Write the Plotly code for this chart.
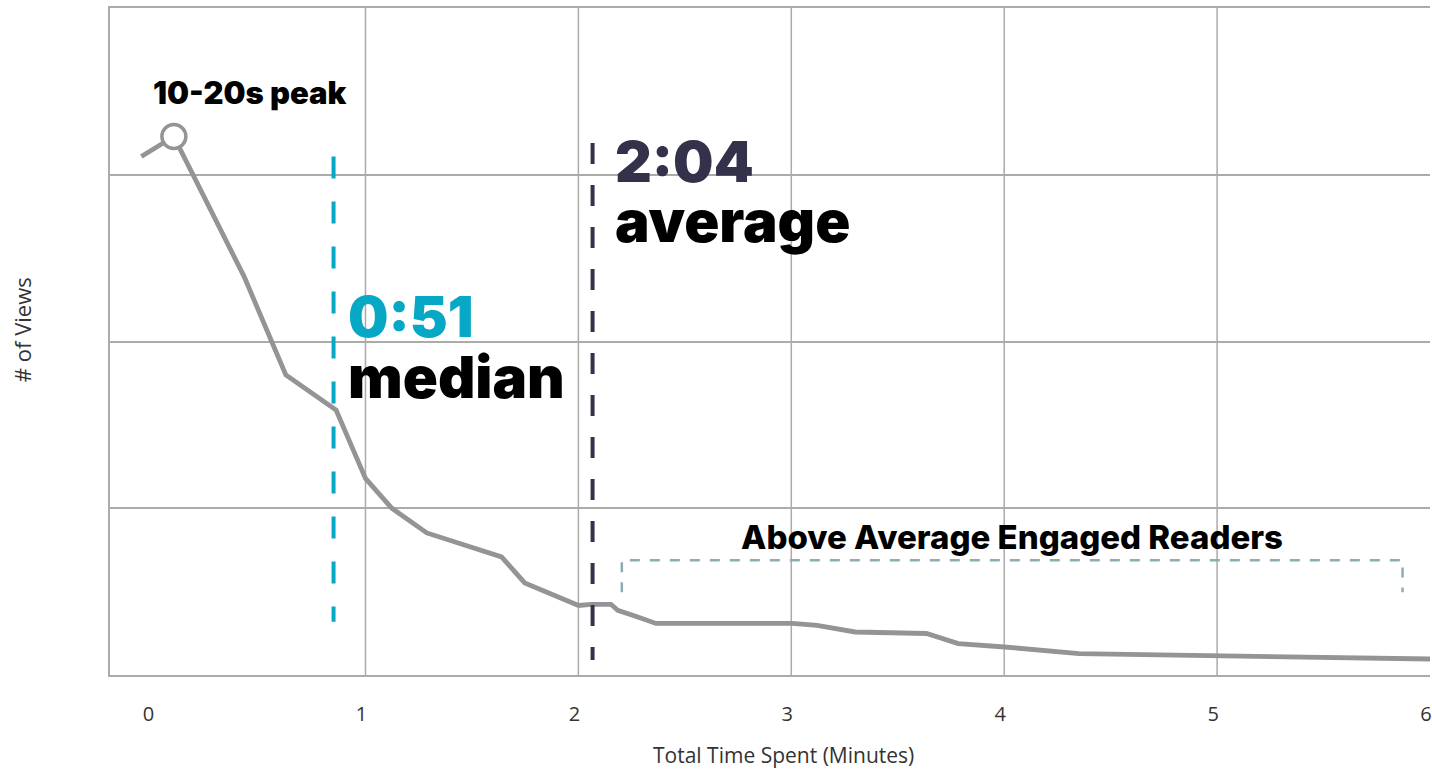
import plotly.graph_objects as go

# Time on page distribution (minutes vs. relative number of views)
minutes = [-0.053, 0.10, 0.430, 0.626, 0.862, 1.000, 1.123, 1.288, 1.639, 1.748,
           2.001, 2.060, 2.153, 2.185, 2.279, 2.364, 3.004, 3.121, 3.300, 3.635,
           3.784, 4.002, 4.351, 6.00]
views = [3.109, 3.229, 2.389, 1.799, 1.589, 1.179, 1.001, 0.852, 0.708, 0.552,
         0.417, 0.424, 0.424, 0.388, 0.348, 0.309, 0.309, 0.298, 0.258, 0.249,
         0.188, 0.168, 0.128, 0.096]

MEDIAN_MIN = 51 / 60      # 0:51
AVERAGE_MIN = 124 / 60    # 2:04
median_span = [0.32, 3.11]
average_span = [0.09, 3.19]
engaged_range = [2.204, 5.871]
engaged_bracket_y = [0.688, 0.496]

x_ticks = [0, 1, 2, 3, 4, 5, 6]
y_grid = [1, 2, 3]
x_range = [-0.2, 6.0]
y_range = [0, 4]

GRID = "#ababab"
LINE = "#949497"
TEAL = "#06a8c6"
NAVY = "#34324a"
BRACKET = "#8eabb1"
BOLD = "Inter"
LIGHT = "Open Sans"

peak_i = views.index(max(views))

fig = go.Figure()
fig.add_trace(go.Scatter(
    x=minutes, y=views, mode="lines",
    line=dict(color=LINE, width=4.8), hoverinfo="skip", showlegend=False,
))
fig.add_trace(go.Scatter(
    x=[minutes[peak_i]], y=[views[peak_i]], mode="markers",
    marker=dict(size=24, color="white", line=dict(color=LINE, width=3.5)),
    hoverinfo="skip", showlegend=False,
))

shapes = []
# vertical grid lines (none at 0)
for t in x_ticks[1:-1]:
    shapes.append(dict(type="line", xref="x", yref="paper", x0=t, x1=t, y0=0, y1=1,
                       line=dict(color=GRID, width=1.5), layer="below"))
# median and average markers
shapes.append(dict(type="line", xref="x", yref="y", x0=MEDIAN_MIN, x1=MEDIAN_MIN,
                   y0=median_span[1], y1=median_span[0],
                   line=dict(color=TEAL, width=4, dash="22px,23px")))
shapes.append(dict(type="line", xref="x", yref="y", x0=AVERAGE_MIN, x1=AVERAGE_MIN,
                   y0=average_span[1], y1=average_span[0],
                   line=dict(color=NAVY, width=4, dash="21px,21px")))
# bracket over the above-average region
x0, x1 = engaged_range
yt, yb = engaged_bracket_y
shapes.append(dict(type="path", xref="x", yref="y",
                   path=f"M {x0},{yb} L {x0},{yt} L {x1},{yt} L {x1},{yb}",
                   line=dict(color=BRACKET, width=2.5, dash="10px,10px")))

W, H = 1432, 770
ML, MR, MT, MB = 110, 0, 8, 95
pw, ph = W - ML - MR, H - MT - MB

annotations = [
    dict(text="10-20s peak", x=minutes[peak_i], y=views[peak_i], xref="x", yref="y",
         xshift=76, yshift=44, showarrow=False,
         font=dict(family=BOLD, size=31, color="black", weight=900)),
    dict(text="0:51", x=MEDIAN_MIN, y=2.15, xref="x", yref="y", xanchor="left",
         xshift=12, showarrow=False,
         font=dict(family=BOLD, size=57, color=TEAL, weight=900)),
    dict(text="median", x=MEDIAN_MIN, y=1.79, xref="x", yref="y", xanchor="left",
         xshift=12, showarrow=False,
         font=dict(family=BOLD, size=58, color="black", weight=900)),
    dict(text="2:04", x=AVERAGE_MIN, y=3.08, xref="x", yref="y", xanchor="left",
         xshift=20, showarrow=False,
         font=dict(family=BOLD, size=57, color=NAVY, weight=900)),
    dict(text="average", x=AVERAGE_MIN, y=2.72, xref="x", yref="y", xanchor="left",
         xshift=20, showarrow=False,
         font=dict(family=BOLD, size=58, color="black", weight=900)),
    dict(text="Above Average Engaged Readers", x=(x0 + x1) / 2, y=0.825, xref="x", yref="y",
         showarrow=False,
         font=dict(family=BOLD, size=33, color="black", weight=800)),
    # axis titles, positioned in pixel space
    dict(text="Total Time Spent (Minutes)", x=(785 - ML) / pw, y=(H - MB - 755) / ph,
         xref="paper", yref="paper", xanchor="center", yanchor="middle",
         showarrow=False, font=dict(family=LIGHT, size=21, color="#333")),
    dict(text="# of Views", x=(22 - ML) / pw, y=(H - MB - 330) / ph,
         xref="paper", yref="paper", xanchor="center", yanchor="middle", textangle=-90,
         showarrow=False, font=dict(family=LIGHT, size=22, color="#333")),
]

fig.update_layout(
    width=W, height=H,
    margin=dict(l=ML, r=MR, t=MT, b=MB),
    plot_bgcolor="white", paper_bgcolor="white",
    shapes=shapes, annotations=annotations,
    xaxis=dict(range=x_range, tickvals=x_ticks, showgrid=False, zeroline=False,
               showline=True, linecolor=GRID, linewidth=2, mirror=True,
               ticks="", ticklabelstandoff=20, ticklabelshift=-4,
               ticklabeloverflow="allow",
               tickfont=dict(family=LIGHT, size=20, color="#333")),
    yaxis=dict(range=y_range, tickvals=y_grid, showticklabels=False, showgrid=True,
               gridcolor=GRID, gridwidth=1.5, zeroline=False,
               showline=True, linecolor=GRID, linewidth=2, ticks=""),
)

fig.write_html("out.html")
